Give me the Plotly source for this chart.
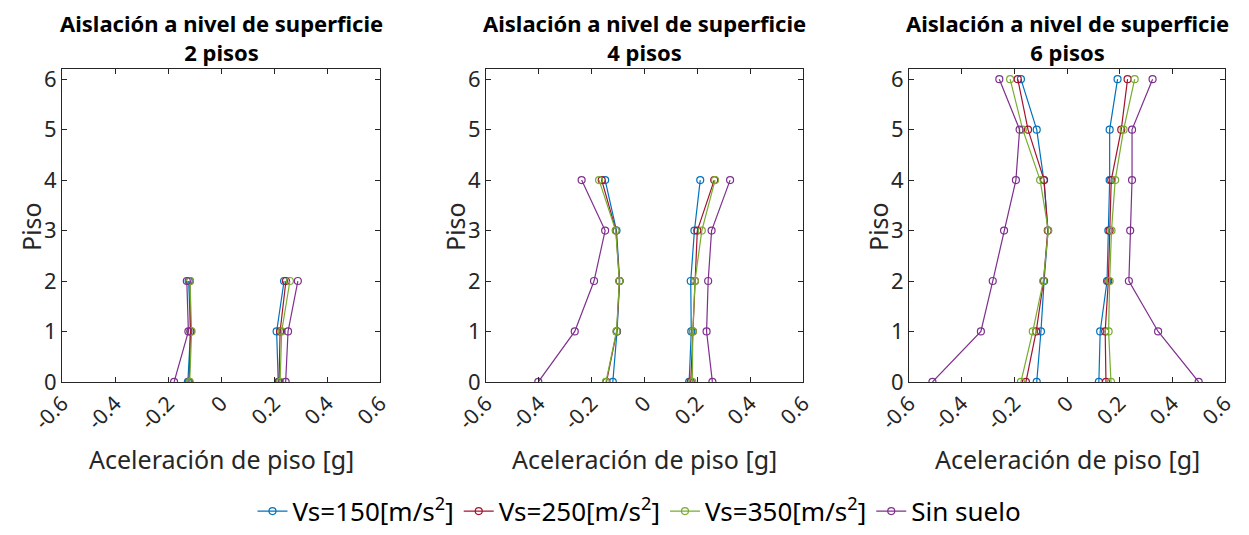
import plotly.graph_objects as go

pisos = [0, 1, 2, 3, 4, 5, 6]
series_names = ["Vs=150[m/s<sup>2</sup>]", "Vs=250[m/s<sup>2</sup>]", "Vs=350[m/s<sup>2</sup>]", "Sin suelo"]
colors = ["#0072BD", "#A2142F", "#77AC30", "#7E2F8E"]
titles = ["Aislación a nivel de superficie<br>2 pisos",
          "Aislación a nivel de superficie<br>4 pisos",
          "Aislación a nivel de superficie<br>6 pisos"]

# Panel 1: 2 pisos (min / max acceleration per floor 0..2)
p2_min = {
    "Vs150": [-0.125, -0.115, -0.122],
    "Vs250": [-0.120, -0.115, -0.117],
    "Vs350": [-0.118, -0.111, -0.117],
    "Sin":   [-0.177, -0.123, -0.129],
}
p2_max = {
    "Vs150": [0.216, 0.210, 0.238],
    "Vs250": [0.219, 0.223, 0.245],
    "Vs350": [0.223, 0.229, 0.260],
    "Sin":   [0.244, 0.253, 0.290],
}
# Panel 2: 4 pisos
p4_min = {
    "Vs150": [-0.120, -0.104, -0.094, -0.106, -0.149],
    "Vs250": [-0.144, -0.105, -0.095, -0.108, -0.162],
    "Vs350": [-0.146, -0.106, -0.095, -0.109, -0.172],
    "Sin":   [-0.402, -0.264, -0.191, -0.149, -0.238],
}
p4_max = {
    "Vs150": [0.169, 0.177, 0.175, 0.189, 0.211],
    "Vs250": [0.175, 0.183, 0.191, 0.200, 0.264],
    "Vs350": [0.181, 0.183, 0.191, 0.217, 0.267],
    "Sin":   [0.257, 0.235, 0.241, 0.254, 0.324],
}
# Panel 3: 6 pisos
p6_min = {
    "Vs150": [-0.115, -0.099, -0.087, -0.072, -0.088, -0.115, -0.175],
    "Vs250": [-0.156, -0.117, -0.089, -0.073, -0.087, -0.148, -0.187],
    "Vs350": [-0.175, -0.130, -0.090, -0.071, -0.102, -0.168, -0.216],
    "Sin":   [-0.511, -0.327, -0.282, -0.239, -0.194, -0.180, -0.257],
}
p6_max = {
    "Vs150": [0.121, 0.126, 0.152, 0.157, 0.162, 0.162, 0.192],
    "Vs250": [0.148, 0.145, 0.157, 0.162, 0.168, 0.206, 0.230],
    "Vs350": [0.167, 0.158, 0.162, 0.169, 0.183, 0.215, 0.257],
    "Sin":   [0.500, 0.346, 0.235, 0.240, 0.247, 0.247, 0.325],
}
keys = ["Vs150", "Vs250", "Vs350", "Sin"]
panels = [(p2_min, p2_max), (p4_min, p4_max), (p6_min, p6_max)]

xtick_vals = [-0.6, -0.4, -0.2, 0, 0.2, 0.4, 0.6]
xtick_text = ["-0.6", "-0.4", "-0.2", "0", "0.2", "0.4", "0.6"]
ytick_vals = [0, 1, 2, 3, 4, 5, 6]

W, H = 1249, 535
x_domains = [(62, 380), (486, 803), (909, 1225)]
y_top, y_bot = 70, 387

fig = go.Figure()
axis_color = "#262626"
font_family = "Noto Sans, Open Sans, sans-serif"

for pi, (pmin, pmax) in enumerate(panels):
    xa = "x" if pi == 0 else f"x{pi+1}"
    ya = "y" if pi == 0 else f"y{pi+1}"
    for si, k in enumerate(keys):
        for side, data in enumerate((pmin, pmax)):
            vals = data[k]
            fig.add_trace(go.Scatter(
                x=vals, y=pisos[:len(vals)], mode="lines+markers",
                line=dict(color=colors[si], width=1.2),
                marker=dict(symbol="circle-open", size=7, color=colors[si], line=dict(width=1.2)),
                name=series_names[si], legendgroup=k,
                showlegend=(pi == 0 and side == 0),
                xaxis=xa, yaxis=ya, hoverinfo="skip"))
    d0, d1 = x_domains[pi]
    xkey = "xaxis" if pi == 0 else f"xaxis{pi+1}"
    ykey = "yaxis" if pi == 0 else f"yaxis{pi+1}"
    fig.layout[xkey] = dict(
        domain=[d0 / W, d1 / W], range=[-0.6, 0.6], anchor=ya, automargin=False,
        tickvals=xtick_vals, ticktext=xtick_text, tickangle=-45,
        ticks="inside", ticklen=5, tickcolor=axis_color, showline=True, linecolor=axis_color,
        linewidth=1, mirror="ticks", showgrid=False, zeroline=False,
        tickfont=dict(size=21, color=axis_color, family=font_family))
    fig.layout[ykey] = dict(
        domain=[1 - y_bot / H, 1 - y_top / H], range=[0, 6.2], anchor=xa, automargin=False,
        tickvals=ytick_vals, ticks="inside", ticklen=5, tickcolor=axis_color,
        showline=True, linecolor=axis_color, linewidth=1, mirror="ticks",
        showgrid=False, zeroline=False,
        tickfont=dict(size=22, color=axis_color, family=font_family))
    cx = (d0 + d1) / 2 / W
    fig.add_annotation(text=titles[pi], x=cx, y=1 - 38 / H, xref="paper", yref="paper",
                       xanchor="center", yanchor="middle", showarrow=False,
                       font=dict(size=22, color="#000000", family=font_family, weight="bold"))
    fig.add_annotation(text="Aceleración de piso [g]", x=cx, y=1 - 465 / H, xref="paper", yref="paper",
                       xanchor="center", yanchor="middle", showarrow=False,
                       font=dict(size=25, color=axis_color, family=font_family))
    fig.add_annotation(text="Piso", x=(d0 - 31) / W, y=1 - 230 / H, xref="paper", yref="paper",
                       xanchor="center", yanchor="middle", showarrow=False, textangle=-90,
                       font=dict(size=25, color=axis_color, family=font_family))

fig.update_layout(
    width=W, height=H, margin=dict(l=0, r=0, t=0, b=0),
    paper_bgcolor="white", plot_bgcolor="white",
    font=dict(family=font_family, color=axis_color),
    legend=dict(orientation="h", x=0.512, y=1 - 518 / H, xanchor="center", yanchor="middle",
                font=dict(size=26, color="#000000", family=font_family),
                itemwidth=30, tracegroupgap=0, bgcolor="rgba(0,0,0,0)"),
    showlegend=True,
)

fig.write_html("out.html")
